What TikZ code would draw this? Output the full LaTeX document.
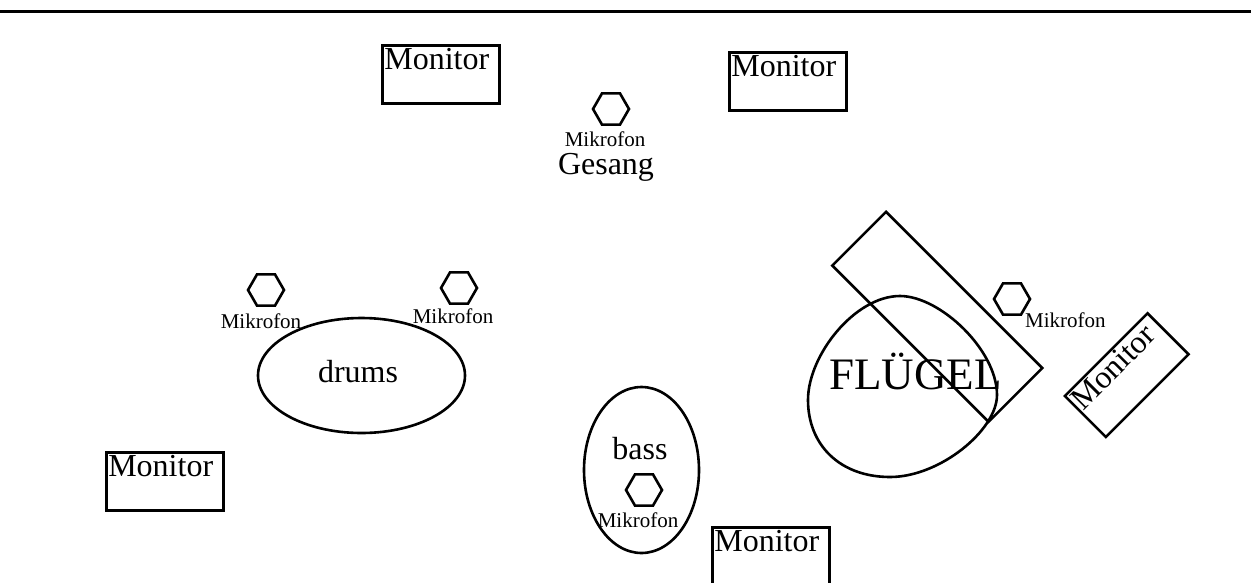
\documentclass[tikz,border=0pt]{standalone}
\usepackage{fontspec}
\setmainfont{Liberation Serif}
\usetikzlibrary{shapes.geometric}
\tikzset{
  x=1pt, y=-1pt,
  shp/.style={draw=black, line width=2.6pt},
  monitor/.style={shp, anchor=north west, inner xsep=2pt, inner ysep=0pt,
    text width=113pt, align=left, text height=24pt, text depth=34pt,
    font=\fontsize{32}{36}\selectfont},
  mic/.style={shp, regular polygon, regular polygon sides=6, minimum size=36pt, inner sep=0pt},
  mictext/.style={anchor=base, inner sep=0pt, font=\fontsize{21}{24}\selectfont},
  lbl/.style={anchor=base, inner sep=0pt, font=\fontsize{32}{36}\selectfont},
}
\begin{document}
\begin{tikzpicture}
\useasboundingbox (0,0) rectangle (1251,582);
\coordinate (lineL) at (0,11.5);
\coordinate (lineR) at (1251,11.5);
\draw[line width=3pt] (lineL) -- (lineR);

% Monitors
\node[monitor] (mon1) at (381,44) {Monitor};
\node[monitor] (mon2) at (728,51) {Monitor};
\node[monitor] (mon3) at (105,451) {Monitor};
\node[monitor] (mon4) at (711,526) {Monitor};
\node[monitor, rotate=45] (mon5) at (1063,396) {Monitor};

% Gesang
\node[mic] (micG) at (611,109) {};
\node[mictext] (micGt) at (605,146) {Mikrofon};
\node[lbl] (gesang) at (606,174) {Gesang};

% Drums
\node[shp, ellipse, minimum width=207pt, minimum height=115pt, inner sep=0pt] (drums) at (361.5,375.5) {};
\node[lbl] (drumst) at (358,382) {drums};
\node[mic] (micD1) at (266,290) {};
\node[mictext] (micD1t) at (261,328) {Mikrofon};
\node[mic] (micD2) at (459,288) {};
\node[mictext] (micD2t) at (453,323) {Mikrofon};

% Bass
\node[shp, ellipse, minimum width=115pt, minimum height=166pt, inner sep=0pt] (bass) at (641.5,470) {};
\node[lbl] (basst) at (640,459) {bass};
\node[mic] (micB) at (644,490) {};
\node[mictext] (micBt) at (638,527) {Mikrofon};

% Fluegel
\node[shp, rotate=-45, anchor=north west, minimum width=221pt, minimum height=76pt, inner sep=0pt] (lid) at (886,210) {};
\draw[shp] (900,296) .. controls (940,296) and (997,350) .. (997,395)
  .. controls (997,430) and (940,477) .. (890,477)
  .. controls (840,477) and (808,445) .. (808,400)
  .. controls (808,355) and (855,296) .. (900,296) -- cycle;
\node[anchor=base west, inner sep=0pt, font=\fontsize{45}{50}\selectfont] (fluegel) at (829,389) {FLÜGEL};
\node[mic] (micF) at (1012,299) {};
\node[mictext, anchor=base west] (micFt) at (1025,327) {Mikrofon};
\end{tikzpicture}
\end{document}
